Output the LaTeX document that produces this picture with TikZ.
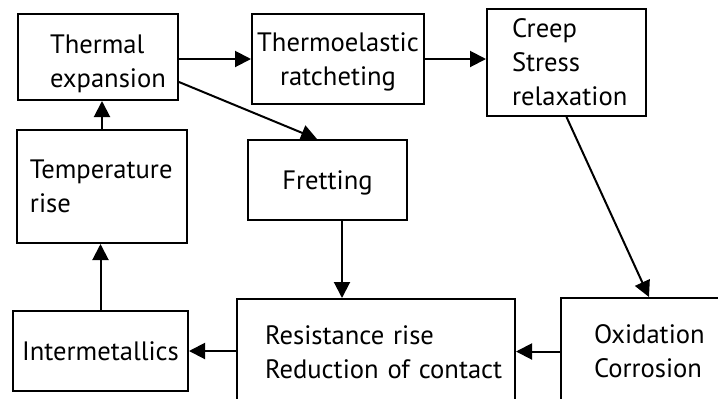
\documentclass[tikz,border=0pt]{standalone}
\usepackage{fontspec}
\setmainfont{PT Sans}
\usepackage{tikz}
\usetikzlibrary{calc,positioning,arrows.meta}
\hyphenpenalty=10000
\exhyphenpenalty=10000

\tikzset{
	box/.style={shape=rectangle,draw,line width=1pt,inner ysep=0pt,font=\fontsize{13.3}{17}\selectfont},
	lbox/.style={box,align=left},
	cbox/.style={box,align=center,inner xsep=0pt,text depth=0pt},
}

\begin{document}
\begin{tikzpicture}[x=0.5pt,y=-0.5pt,line width=1pt,>={Triangle[length=8pt,width=8pt]}]
		\clip (0,0) rectangle (718,398);
		% top row
		\node(te) at (98,57) [lbox,minimum height=43pt,text width=48pt,inner xsep=16pt,text height=16pt] {Thermal\\expansion};
		\node(tr) at (338,59) [cbox,minimum width=86pt,minimum height=45pt] {Thermoelastic\\ratcheting};
		\node(cr) at (566.5,62.5) [lbox,minimum height=53.5pt,text width=54.5pt,inner xsep=12.5pt] {Creep\\Stress\\relaxation};
		% middle
		\node(temp) at (102,186.5) [lbox,minimum height=56.5pt,text width=72pt,inner xsep=6.5pt] {Temperature\\rise};
		\node(fret) at (327.5,180) [cbox,minimum width=79.5pt,minimum height=40pt] {Fretting};
		% bottom row
		\node(inter) at (100.5,351) [cbox,minimum width=87.5pt,minimum height=40pt] {Intermetallics};
		\node(resist) at (376,352) [lbox,minimum height=53pt,text width=111pt,inner xsep=14pt] {Resistance~rise\\Reduction~of~contact};
		\node(oxid) at (649,351.5) [lbox,minimum height=53.5pt,text width=55pt,inner xsep=16.5pt] {Oxidation\\Corrosion};
		\draw[->] (te.east |- tr.west) -- (tr.west);
		\draw[->] (tr.east) -- (tr.east -| cr.west);
		\draw[->] ([yshift=-12.5pt]te.east) -- ([xshift=-5.25pt]fret.north);
		\draw[->] (temp.north) -- (temp.north |- te.south);
		\draw[->] (inter.north) -- (inter.north |- temp.south);
		\draw[->] ([xshift=7.25pt]fret.south) -- ([xshift=7.25pt]fret.south |- resist.north);
		\draw[->] (cr.south) -- (oxid.north);
		\draw[->] (oxid.west) -- (oxid.west -| resist.east);
		\draw[->] (resist.west |- inter.east) -- (inter.east);
	\end{tikzpicture}
\end{document}
